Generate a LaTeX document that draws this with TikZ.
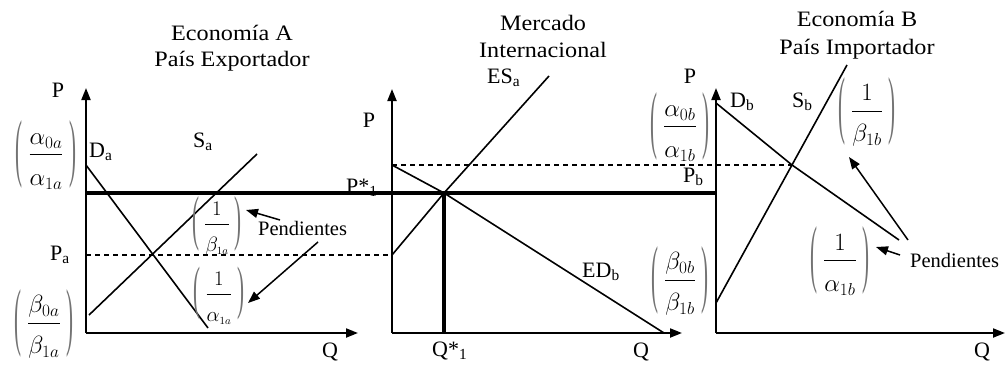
\documentclass[tikz,border=0pt]{standalone}
\usepackage{amsmath}
\usepackage{graphicx}
\usepackage{fontspec}
\setmainfont{Liberation Serif}
\newfontfamily\titlefont{Liberation Serif}[FakeStretch=1.1]
\usetikzlibrary{arrows.meta}
\colorlet{parcol}{black!55}
\newcommand{\pfr}[3][68]{\ensuremath{\vcenter{\hbox{\color{parcol}\resizebox*{7pt}{#1pt}{(}}}\mkern4mu\dfrac{#2}{\rule{0pt}{1.12em}#3}\mkern4mu\vcenter{\hbox{\color{parcol}\resizebox*{7pt}{#1pt}{)}}}}}
\begin{document}
\begin{tikzpicture}[x=1pt,y=-1pt,
  axis/.style={line width=2pt,-{Triangle[length=12pt,width=9pt]}},
  curve/.style={line width=1.6pt},
  pstar/.style={line width=3.4pt},
  guide/.style={line width=1.2pt,dash pattern=on 5pt off 4pt},
  pointer/.style={line width=1.5pt,-{Triangle[length=12pt,width=9pt]}},
  lbl/.style={font=\fontsize{22}{26}\selectfont,inner sep=0pt},
  note/.style={font=\fontsize{20.5}{24}\selectfont,inner sep=0pt,anchor=base west},
  ttl/.style={font=\titlefont\fontsize{22}{26}\selectfont,inner sep=0pt,anchor=base},
  frc/.style={font=\fontsize{24}{28}\selectfont,inner sep=0pt},
  frcs/.style={font=\fontsize{22}{26}\selectfont,inner sep=0pt}]
\useasboundingbox (0,0) rectangle (1006,372);
% titles
\node[ttl] (tA1) at (232,40) {Economía A};
\node[ttl] (tA2) at (232,66) {País Exportador};
\node[ttl] (tM1) at (543,30) {Mercado};
\node[ttl] (tM2) at (543,57) {Internacional};
\node[ttl] (tB1) at (857,27) {Economía B};
\node[ttl] (tB2) at (857,54) {País Importador};
% coordinates
\coordinate (oA) at (86,333);  \coordinate (yA) at (86,88);  \coordinate (xA) at (358,333);
\coordinate (oM) at (392,333); \coordinate (yM) at (392,89); \coordinate (xM) at (682,333);
\coordinate (oB) at (716,333); \coordinate (yB) at (716,88); \coordinate (xB) at (1005,333);
\coordinate (da0) at (86,165);  \coordinate (da1) at (208,328);
\coordinate (sa0) at (89,315);  \coordinate (sa1) at (257,154);
\coordinate (pa0) at (86,255);  \coordinate (pa1) at (392,255);
\coordinate (ps0) at (86,193);  \coordinate (ps1) at (715,193);
\coordinate (eq) at (444,193);  \coordinate (qs) at (444,333);
\coordinate (es1) at (549,76);
\coordinate (ed0) at (392,165); \coordinate (ed1) at (664,333);
\coordinate (eqB) at (792,165);
\coordinate (db0) at (716,103); \coordinate (db1) at (899,240);
\coordinate (sb0) at (716,303); \coordinate (sb1) at (847,65);
% axes
\draw[axis] (oA) -- (yA);
\draw[axis] (oA) -- (xA);
\draw[axis] (oM) -- (yM);
\draw[axis] (oM) -- (xM);
\draw[axis] (oB) -- (yB);
\draw[axis] (oB) -- (xB);
% guides
\draw[guide] (pa0) -- (pa1);
\draw[guide] (ed0) -- (eqB);
% curves
\draw[curve] (da0) -- (da1);
\draw[curve] (sa0) -- (sa1);
\draw[curve] (pa1) -- (eq) -- (es1);
\draw[curve] (ed0) -- (eq) -- (ed1);
\draw[curve] (db0) -- (eqB) -- (db1);
\draw[curve] (sb0) -- (sb1);
% world price
\draw[pstar] (ps0) -- (ps1);
\draw[pstar] (eq) -- (qs);
% labels
\node[lbl,anchor=base] (pA) at (58,97) {P};
\node[lbl,anchor=base] (qA) at (330,357) {Q};
\node[lbl,anchor=base west] (Pa) at (50,260) {P\textsubscript{a}};
\node[lbl,anchor=base west] (Da) at (89,157) {D\textsubscript{a}};
\node[lbl,anchor=base west] (Sa) at (193,147) {S\textsubscript{a}};
\node[lbl,anchor=base] (pM) at (369,127) {P};
\node[lbl,anchor=base west] (Pst) at (346,193) {P*\textsubscript{1}};
\node[lbl,anchor=base west] (Qst) at (432,356) {Q*\textsubscript{1}};
\node[lbl,anchor=base] (qM) at (641,357) {Q};
\node[lbl,anchor=base west] (ESa) at (487,83) {ES\textsubscript{a}};
\node[lbl,anchor=base west] (EDb) at (582,277) {ED\textsubscript{b}};
\node[lbl,anchor=base] (pB) at (690,83) {P};
\node[lbl,anchor=base west] (Db) at (730,107) {D\textsubscript{b}};
\node[lbl,anchor=base west] (Sb) at (792,107) {S\textsubscript{b}};
\node[lbl,anchor=base west] (Pb) at (683,182) {P\textsubscript{b}};
\node[lbl,anchor=base] (qB) at (982,357) {Q};
\node[note] (pendA) at (258,235) {Pendientes};
\node[note] (pendB) at (910,267) {Pendientes};
% fractions
\node[frc] (fa0) at (46,155) {\pfr{\alpha_{0a}}{\alpha_{1a}}};
\node[frc] (fb0) at (44,324) {\pfr{\beta_{0a}}{\beta_{1a}}};
\node[frcs] (fsa) at (217,226) {\pfr[55]{1}{\beta_{\scriptscriptstyle 1a}}};
\node[frcs] (fda) at (219,296) {\pfr[53]{1}{\alpha_{\scriptscriptstyle 1a}}};
\node[frc] (fa0b) at (680,127) {\pfr{\alpha_{0b}}{\alpha_{1b}}};
\node[frc] (fb0b) at (680,281) {\pfr{\beta_{0b}}{\beta_{1b}}};
\node[frc] (fsb) at (867,112) {\pfr{1}{\beta_{1b}}};
\node[frc] (fdb) at (840,261) {\pfr{1}{\alpha_{1b}}};
% pointers
\coordinate (tA1a) at (280,220); \coordinate (hA1a) at (246,210);
\coordinate (tA2a) at (318,242); \coordinate (hA2a) at (248,303);
\coordinate (tB1a) at (908,240); \coordinate (hB1a) at (849,157);
\coordinate (tB2a) at (900,255); \coordinate (hB2a) at (876,247);
\draw[pointer] (tA1a) -- (hA1a);
\draw[pointer] (tA2a) -- (hA2a);
\draw[pointer] (tB1a) -- (hB1a);
\draw[pointer] (tB2a) -- (hB2a);
\end{tikzpicture}
\end{document}
